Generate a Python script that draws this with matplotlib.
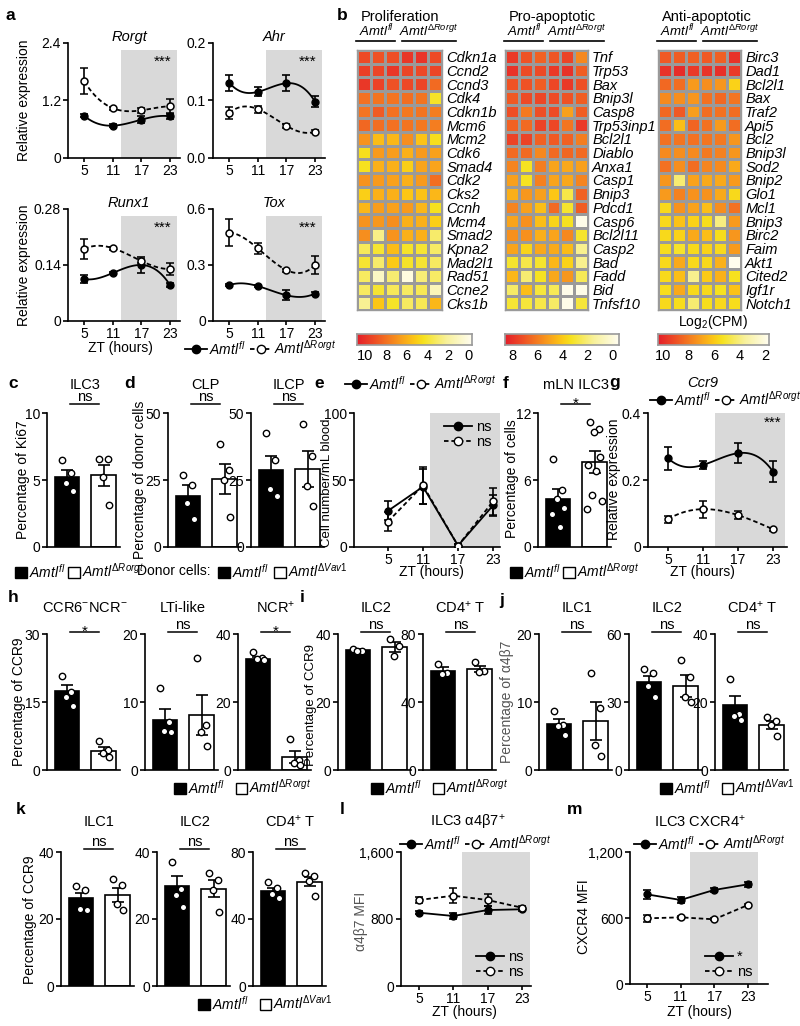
import numpy as np
import matplotlib
matplotlib.use("Agg")
import matplotlib.pyplot as plt
import matplotlib.transforms as mtransforms
from matplotlib.colors import LinearSegmentedColormap
from matplotlib.lines import Line2D
from matplotlib.patches import Patch

plt.rcParams["font.family"] = ["Liberation Sans", "DejaVu Sans"]
plt.rcParams["mathtext.fontset"] = "custom"
plt.rcParams["mathtext.rm"] = "Liberation Sans"
plt.rcParams["mathtext.it"] = "Liberation Sans:italic"
plt.rcParams["mathtext.bf"] = "Liberation Sans:bold"
plt.rcParams["font.size"] = 10
plt.rcParams["axes.linewidth"] = 1.2
plt.rcParams["xtick.major.width"] = 1.2
plt.rcParams["ytick.major.width"] = 1.2
plt.rcParams["xtick.major.size"] = 3
plt.rcParams["ytick.major.size"] = 3.5
plt.rcParams["xtick.major.pad"] = 1
plt.rcParams["ytick.major.pad"] = 1.5

# ---------------- data ----------------
zt = [5, 11, 17, 23]

# a: qPCR time courses (mean, sem)
rorgt_fl = [0.88, 0.675, 0.80, 0.87]
rorgt_fl_err = [0.03, 0.03, 0.08, 0.05]
rorgt_ko = [1.60, 1.04, 0.995, 1.08]
rorgt_ko_err = [0.27, 0.03, 0.05, 0.15]
ahr_fl = [0.131, 0.115, 0.130, 0.098]
ahr_fl_err = [0.014, 0.008, 0.014, 0.010]
ahr_ko = [0.078, 0.085, 0.056, 0.046]
ahr_ko_err = [0.011, 0.006, 0.003, 0.002]
runx1_fl = [0.105, 0.120, 0.140, 0.090]
runx1_fl_err = [0.010, 0.003, 0.020, 0.006]
runx1_ko = [0.180, 0.182, 0.150, 0.130]
runx1_ko_err = [0.025, 0.004, 0.005, 0.015]
tox_fl = [0.192, 0.187, 0.138, 0.147]
tox_fl_err = [0.005, 0.006, 0.027, 0.006]
tox_ko = [0.474, 0.389, 0.273, 0.300]
tox_ko_err = [0.074, 0.031, 0.008, 0.050]

# b: heatmaps, log2(CPM)
prolif_genes = ["Cdkn1a", "Ccnd2", "Ccnd3", "Cdk4", "Cdkn1b", "Mcm6", "Mcm2", "Cdk6", "Smad4", "Cdk2",
                "Cks2", "Ccnh", "Mcm4", "Smad2", "Kpna2", "Mad2l1", "Rad51", "Ccne2", "Cks1b"]
prolif_vals = [
    [9.2, 9.0, 9.1, 9.9, 10.0, 9.2],
    [9.6, 9.4, 9.9, 9.4, 9.3, 9.4],
    [9.9, 9.5, 9.0, 9.3, 9.4, 8.2],
    [8.0, 7.9, 7.9, 8.1, 7.9, 4.2],
    [7.9, 8.7, 8.0, 7.8, 7.9, 7.6],
    [8.3, 8.1, 8.0, 7.9, 7.8, 7.6],
    [6.9, 5.6, 5.8, 7.1, 5.4, 4.5],
    [4.5, 6.7, 6.6, 6.0, 6.7, 6.5],
    [4.4, 6.0, 6.0, 5.0, 6.4, 6.4],
    [6.9, 6.7, 6.5, 6.0, 6.7, 8.1],
    [5.0, 6.0, 6.0, 5.3, 5.4, 5.8],
    [5.8, 6.6, 6.5, 6.7, 5.8, 4.4],
    [6.9, 6.8, 7.1, 6.0, 6.0, 5.0],
    [7.1, 2.5, 6.9, 6.0, 6.0, 3.0],
    [3.3, 4.0, 5.6, 4.2, 4.0, 3.1],
    [4.0, 3.0, 5.2, 4.2, 4.0, 3.2],
    [3.2, 1.0, 2.9, 0.2, 2.8, 3.1],
    [3.2, 4.0, 3.3, 3.2, 3.4, 1.3],
    [2.3, 5.3, 4.2, 3.2, 3.4, 5.8],
]
pro_genes = ["Tnf", "Trp53", "Bax", "Bnip3l", "Casp8", "Trp53inp1", "Bcl2l1", "Diablo", "Anxa1", "Casp1",
             "Bnip3", "Pdcd1", "Casp6", "Bcl2l11", "Casp2", "Bad", "Fadd", "Bid", "Tnfsf10"]
pro_vals = [
    [7.8, 7.1, 6.7, 7.0, 7.5, 5.7],
    [8.0, 7.3, 7.3, 7.8, 8.0, 6.8],
    [7.1, 7.1, 6.8, 7.4, 7.8, 7.2],
    [6.9, 7.3, 7.4, 7.3, 7.1, 6.8],
    [7.2, 6.1, 7.2, 7.3, 5.1, 6.8],
    [6.7, 6.5, 7.5, 7.4, 6.2, 7.8],
    [7.5, 7.5, 6.7, 6.9, 6.7, 6.0],
    [6.5, 6.5, 5.7, 6.5, 6.6, 6.5],
    [5.8, 3.3, 6.0, 5.0, 4.9, 5.1],
    [5.1, 3.3, 5.9, 5.0, 4.9, 5.8],
    [4.7, 5.3, 5.1, 4.1, 2.7, 6.7],
    [5.8, 5.1, 4.3, 6.5, 3.1, 6.8],
    [5.0, 5.5, 4.3, 3.7, 3.3, -0.3],
    [5.5, 5.5, 4.7, 5.0, 5.7, 3.1],
    [5.0, 3.7, 4.9, 4.8, 4.4, 1.7],
    [3.1, 2.7, 3.1, 4.5, 3.8, 1.7],
    [4.5, 2.1, 3.3, 4.9, 5.3, 2.5],
    [2.3, 4.3, 2.9, 2.5, -0.3, -0.3],
    [3.0, 2.9, 2.7, 2.3, -0.3, 2.9],
]
anti_genes = ["Birc3", "Dad1", "Bcl2l1", "Bax", "Traf2", "Api5", "Bcl2", "Bnip3l", "Sod2", "Bnip2",
              "Glo1", "Mcl1", "Bnip3", "Birc2", "Faim", "Akt1", "Cited2", "Igf1r", "Notch1"]
anti_vals = [
    [8.8, 8.7, 8.6, 8.8, 8.6, 9.8],
    [9.8, 10.0, 9.6, 9.8, 9.9, 9.6],
    [8.4, 8.3, 7.2, 7.5, 7.3, 5.8],
    [7.6, 7.5, 7.3, 8.2, 8.4, 8.1],
    [8.4, 8.8, 7.1, 8.3, 8.2, 8.3],
    [8.3, 6.3, 8.5, 8.2, 7.2, 8.3],
    [8.2, 8.1, 8.2, 8.1, 8.0, 7.3],
    [7.6, 7.5, 7.6, 8.0, 7.8, 7.3],
    [8.2, 7.5, 8.3, 7.7, 7.6, 6.8],
    [7.3, 4.2, 7.0, 6.8, 6.8, 7.2],
    [7.2, 7.8, 7.4, 7.4, 6.8, 5.6],
    [5.6, 7.4, 7.0, 6.3, 7.5, 8.2],
    [5.6, 6.2, 5.8, 5.5, 4.0, 7.2],
    [5.6, 5.8, 6.8, 6.3, 5.5, 7.3],
    [5.5, 5.2, 5.6, 5.8, 5.6, 7.2],
    [5.6, 6.8, 5.6, 5.6, 6.6, 1.8],
    [5.6, 6.3, 3.8, 6.0, 6.6, 5.4],
    [5.5, 6.8, 5.6, 5.6, 5.4, 6.2],
    [5.6, 5.5, 4.2, 5.5, 5.6, 5.5],
]

# c
ki67_fl = [6.5, 5.5, 4.8, 4.2]
ki67_ko = [6.6, 6.6, 5.2, 3.1]
ki67_mean = [5.25, 5.35]
ki67_sem = [0.5, 0.8]
# d
clp_fl = [27.0, 23.0, 16.5, 10.5]
clp_ko = [38.3, 28.6, 24.9, 11.2]
clp_mean = [19.2, 25.5]
clp_sem = [3.8, 5.6]
ilcp_fl = [42.5, 32.3, 21.8, 19.0]
ilcp_ko = [45.8, 33.8, 22.6, 15.2]
ilcp_mean = [28.8, 29.2]
ilcp_sem = [5.2, 6.8]
# e
blood_fl = [27, 45, 1, 31]
blood_fl_err = [7, 13, 1, 8]
blood_ko = [19, 46, 1, 34]
blood_ko_err = [7, 14, 1, 10]
# f
mln_fl = [7.9, 5.1, 4.3, 3.5, 3.0, 1.8]
mln_ko = [11.2, 10.6, 10.3, 8.1, 7.3, 6.8, 4.7, 4.1, 3.4]
mln_mean = [4.3, 7.6]
mln_sem = [0.9, 1.0]
# g
ccr9_fl = [0.265, 0.245, 0.28, 0.225]
ccr9_fl_err = [0.035, 0.012, 0.03, 0.032]
ccr9_ko = [0.083, 0.113, 0.095, 0.053]
ccr9_ko_err = [0.01, 0.025, 0.012, 0.005]
# h
ccr6_fl = [20.8, 17.3, 16.2, 14.2]
ccr6_ko = [6.5, 4.4, 3.7, 2.9]
ccr6_mean = [17.5, 4.3]
ccr6_sem = [1.3, 0.8]
lti_fl = [12.0, 7.1, 5.7, 5.6]
lti_ko = [16.5, 6.6, 5.6, 3.6]
lti_mean = [7.4, 8.1]
lti_sem = [1.5, 2.9]
ncr_fl = [34.6, 32.9, 32.6, 32.3]
ncr_ko = [9.0, 2.8, 2.2, 1.5]
ncr_mean = [32.6, 3.9]
ncr_sem = [0.6, 1.7]
# i
i_ilc2_fl = [35.6, 35.1, 35.0]
i_ilc2_ko = [38.5, 36.6, 33.6]
i_ilc2_mean = [35.3, 36.2]
i_ilc2_sem = [0.3, 1.4]
i_cd4_fl = [62.5, 57.0, 56.4]
i_cd4_ko = [63.3, 58.0, 57.6]
i_cd4_mean = [58.4, 59.6]
i_cd4_sem = [2.2, 1.8]
# j
j_ilc1_fl = [8.7, 6.6, 6.5, 5.1]
j_ilc1_ko = [14.3, 9.1, 3.7, 2.1]
j_ilc1_mean = [6.8, 7.2]
j_ilc1_sem = [0.7, 2.8]
j_ilc2_fl = [44.5, 42.8, 36.9, 32.4]
j_ilc2_ko = [48.4, 41.0, 32.4, 30.2]
j_ilc2_mean = [38.8, 37.0]
j_ilc2_sem = [2.7, 4.8]
j_cd4_fl = [26.7, 16.5, 15.9, 14.7]
j_cd4_ko = [15.7, 14.5, 13.3, 10.1]
j_cd4_mean = [19.0, 13.3]
j_cd4_sem = [2.7, 1.2]
# k
k_ilc1_fl = [29.8, 28.6, 23.1, 22.8]
k_ilc1_ko = [31.8, 30.1, 24.6, 22.6]
k_ilc1_mean = [26.2, 27.2]
k_ilc1_sem = [1.6, 2.2]
k_ilc2_fl = [37.0, 29.1, 27.1, 23.6]
k_ilc2_ko = [33.7, 31.6, 28.8, 22.1]
k_ilc2_mean = [29.9, 29.0]
k_ilc2_sem = [2.8, 2.5]
k_cd4_fl = [62.1, 58.8, 55.2, 52.6]
k_cd4_ko = [67.5, 65.5, 62.5, 53.8]
k_cd4_mean = [56.5, 62.3]
k_cd4_sem = [2.0, 2.8]
# l, m
a4b7_fl = [875, 836, 907, 916]
a4b7_fl_err = [20, 40, 50, 20]
a4b7_ko = [1027, 1078, 1027, 935]
a4b7_ko_err = [40, 90, 70, 15]
cxcr4_fl = [815, 764, 855, 906]
cxcr4_fl_err = [40, 30, 20, 25]
cxcr4_ko = [597, 606, 588, 718]
cxcr4_ko_err = [30, 15, 10, 5]

# ---------------- helpers ----------------
W, H = 800, 1026
fig = plt.figure(figsize=(W / 100, H / 100), dpi=100)

FL = r"$\mathit{Amtl}^{\mathit{fl}}$"
KO_R = r"$\mathit{Amtl}^{\mathit{\Delta Rorgt}}$"
KO_V = r"$\mathit{Amtl}^{\mathit{\Delta Vav1}}$"
SHADE = "#d9d9d9"
DASH = (0, (2.5, 1.6))
LAB = 10      # axis label size
TIT = 10.5    # panel titles
LEG = 10      # legend text


def px_ax(x0, y0, x1, y1):
    return fig.add_axes([x0 / W, 1 - y1 / H, (x1 - x0) / W, (y1 - y0) / H])


def ftext(x, y, s, **kw):
    kw.setdefault("ha", "center")
    kw.setdefault("va", "center")
    return fig.text(x / W, 1 - y / H, s, **kw)


def letter(x, y, s):
    ftext(x, y, s, fontsize=12.5, fontweight="bold", ha="left")


def clean(ax):
    ax.spines["top"].set_visible(False)
    ax.spines["right"].set_visible(False)


def bar_legend(x, y, ko_label, gap=0.5):
    h = [Patch(facecolor="k", edgecolor="k", lw=1), Patch(facecolor="w", edgecolor="k", lw=1)]
    fig.legend(h, [FL, ko_label], loc="center left", bbox_to_anchor=(x / W, 1 - y / H),
               ncol=2, frameon=False, handlelength=0.85, handleheight=0.85, handletextpad=0.15,
               columnspacing=gap, borderpad=0, borderaxespad=0, fontsize=LEG)


def line_handles():
    return [Line2D([], [], color="k", lw=1.3, marker="o", ms=6),
            Line2D([], [], color="k", lw=1.3, ls=DASH, marker="o", mfc="w", ms=6)]


def line_legend(x, y, ko_label):
    fig.legend(line_handles(), [FL, ko_label], loc="center left", bbox_to_anchor=(x / W, 1 - y / H),
               ncol=2, frameon=False, handlelength=1.6, handletextpad=0.1, columnspacing=0.35,
               borderpad=0, borderaxespad=0, fontsize=LEG)


def inner_legend(x, y, labels):
    fig.legend(line_handles(), labels, loc="upper left", bbox_to_anchor=(x / W, 1 - y / H),
               ncol=1, frameon=False, handlelength=1.9, handletextpad=0.3, labelspacing=0.05,
               borderpad=0, borderaxespad=0, fontsize=LEG + 0.5)


JIT = [-0.13, 0.12, -0.02, 0.16, -0.17, 0.05, -0.08, 0.2, -0.22]


def bar_panel(left, top, bottom, pts_fl, pts_ko, means, sems, ymax, title, sig,
              title_y, line_y):
    ax = px_ax(left, top, left + 73, bottom)
    clean(ax)
    ax.bar([0, 1], means, width=0.68, color=["k", "w"], edgecolor="k", lw=1.2, zorder=1)
    ax.errorbar([0, 1], means, yerr=sems, fmt="none", ecolor="k", elinewidth=1.2,
                capsize=4, capthick=1.2, zorder=2)
    for xc, pts in zip([0, 1], [pts_fl, pts_ko]):
        ax.plot(xc + np.array(JIT[:len(pts)]), pts, "o", mfc="w", mec="k", ms=4.6, mew=1,
                zorder=3, clip_on=False)
    ax.set_xlim(-0.55, 1.45)
    ax.set_ylim(0, ymax)
    ax.set_yticks([0, ymax / 2, ymax])
    ax.set_yticklabels([f"{v:g}" for v in [0, ymax / 2, ymax]])
    ax.set_xticks([])
    tr = mtransforms.blended_transform_factory(ax.transData, ax.transAxes)
    span = bottom - top
    fy = lambda ypx: (bottom - ypx) / span
    ax.plot([0.08, 0.88], [fy(line_y)] * 2, color="k", lw=1.1, transform=tr, clip_on=False)
    if sig == "*":
        ax.text(0.48, fy(line_y + 4), sig, transform=tr, ha="center", va="baseline", fontsize=11)
    else:
        ax.text(0.48, fy(line_y - 3), sig, transform=tr, ha="center", va="baseline", fontsize=TIT)
    ax.text(0.48, fy(title_y), title, transform=tr, ha="center", va="center", fontsize=TIT)
    return ax


def line_panel(box, xlim, ymax, ticklabels, fl, fl_err, ko, ko_err, smooth, shade, shade_top=1.0):
    ax = px_ax(*box)
    clean(ax)
    ax.axvspan(shade[0], shade[1], ymin=0, ymax=shade_top, color=SHADE, lw=0, zorder=0)
    for y, ls in [(fl, "-"), (ko, DASH)]:
        if smooth:
            xs = np.linspace(zt[0], zt[-1], 120)
            ax.plot(xs, np.polyval(np.polyfit(zt, y, 3), xs), color="k", lw=1.3, ls=ls, zorder=2)
        else:
            ax.plot(zt, y, color="k", lw=1.3, ls=ls, zorder=2)
    ax.errorbar(zt, fl, yerr=fl_err, fmt="o", color="k", mfc="k", mec="k", ms=5,
                elinewidth=1.2, capsize=3, capthick=1.2, zorder=3)
    ax.errorbar(zt, ko, yerr=ko_err, fmt="o", color="k", mfc="w", mec="k", ms=5, mew=1.1,
                elinewidth=1.2, capsize=3, capthick=1.2, zorder=3)
    ax.set_xlim(*xlim)
    ax.set_ylim(0, ymax)
    ax.set_xticks(zt)
    ax.set_yticks([0, ymax / 2, ymax])
    ax.set_yticklabels(ticklabels)
    return ax


# ---------------- a ----------------
letter(6, 15, "a")
a_panels = [
    ((68, 43, 180, 158), 2.4, ["0", "1.2", "2.4"], rorgt_fl, rorgt_fl_err, rorgt_ko, rorgt_ko_err, "Rorgt"),
    ((213, 43, 325, 158), 0.2, ["0.0", "0.1", "0.2"], ahr_fl, ahr_fl_err, ahr_ko, ahr_ko_err, "Ahr"),
    ((68, 209, 180, 321), 0.28, ["0", "0.14", "0.28"], runx1_fl, runx1_fl_err, runx1_ko, runx1_ko_err, "Runx1"),
    ((213, 209, 325, 321), 0.6, ["0", "0.3", "0.6"], tox_fl, tox_fl_err, tox_ko, tox_ko_err, "Tox"),
]
for box, ymax, tl, f, fe, k, ke, name in a_panels:
    ax = line_panel(box, (1.6, 25.1), ymax, tl, f, fe, k, ke, True, (12.8, 24.4), shade_top=0.94)
    ftext((box[0] + box[2]) / 2 + 5, box[1] - 6, name, style="italic", fontsize=TIT)
    ftext(box[2] - 17, box[1] + 19, "***", fontsize=11)
ftext(24, 100, "Relative expression", rotation=90, fontsize=LAB)
ftext(24, 265, "Relative expression", rotation=90, fontsize=LAB)
ftext(120, 348, "ZT (hours)", fontsize=LAB)
line_legend(185, 348, KO_R)

# ---------------- b ----------------
letter(337, 15, "b")
cmap = LinearSegmentedColormap.from_list("heat", [
    (0.0, "#fffdf0"), (0.22, "#f8f19a"), (0.42, "#f6e21e"), (0.5, "#fcc815"),
    (0.6, "#f9a51b"), (0.72, "#f47b20"), (0.85, "#ee4d25"), (1.0, "#e41e2a")])

heat_specs = [
    (357, 442, prolif_vals, prolif_genes, -0.3, 10.8, "Proliferation", 472, [10, 8, 6, 4, 2, 0]),
    (505, 588, pro_vals, pro_genes, -0.5, 8.6, "Pro-apoptotic", 619, [8, 6, 4, 2, 0]),
    (658, 741, anti_vals, anti_genes, 1.7, 10.4, "Anti-apoptotic", 769, [10, 8, 6, 4, 2]),
]
for x0, x1, vals, genes, vmin, vmax, title, cbx1, cbt in heat_specs:
    ax = px_ax(x0, 50, x1, 310)
    ax.pcolormesh(np.array(vals), cmap=cmap, vmin=vmin, vmax=vmax, edgecolors="#9a9a9a", linewidth=0.9)
    ax.set_xlim(0, 6)
    ax.set_ylim(len(genes), 0)
    ax.set_xticks([])
    ax.set_yticks(np.arange(len(genes)) + 0.5)
    ax.set_yticklabels(genes, style="italic", fontsize=10.5)
    ax.yaxis.tick_right()
    ax.tick_params(axis="y", length=0, pad=3)
    for s in ax.spines.values():
        s.set_color("#9a9a9a")
        s.set_linewidth(1)
    ftext(x0 + 4, 17, title, ha="left", fontsize=TIT)
    ftext(x0 + 19, 31, FL, fontsize=9.5)
    ftext(x0 + 72, 31, KO_R, fontsize=9.5)
    fig.add_artist(Line2D([(x0 - 1) / W, (x0 + 38) / W], [1 - 41 / H] * 2, color="k", lw=1.2))
    fig.add_artist(Line2D([(x0 + 45) / W, (x0 + 99) / W], [1 - 41 / H] * 2, color="k", lw=1.2))
    cax = px_ax(x0, 334, cbx1, 345)
    cax.imshow(np.linspace(vmin, vmax, 256)[None, :], cmap=cmap, aspect="auto",
               extent=[vmin, vmax, 0, 1])
    cax.set_xlim(vmax, vmin)
    cax.set_yticks([])
    cax.set_xticks(cbt)
    cax.tick_params(axis="x", length=0, pad=3, labelsize=10.5)
    for s in cax.spines.values():
        s.set_color("#9a9a9a")
        s.set_linewidth(1.2)
ftext(713, 322, r"Log$_2$(CPM)", fontsize=LAB)

# ---------------- c, d, f ----------------
row1 = dict(top=413, bottom=547, title_y=385, line_y=404)
letter(8, 383, "c")
bar_panel(47, pts_fl=ki67_fl, pts_ko=ki67_ko, means=ki67_mean, sems=ki67_sem, ymax=10,
          title="ILC3", sig="ns", **row1)
ftext(23, 480, "Percentage of Ki67", rotation=90, fontsize=LAB)
bar_legend(15, 571, KO_R, gap=0.2)

letter(124, 383, "d")
bar_panel(168, pts_fl=clp_fl, pts_ko=clp_ko, means=clp_mean, sems=clp_sem, ymax=50,
          title="CLP", sig="ns", **row1)
bar_panel(251, pts_fl=ilcp_fl, pts_ko=ilcp_ko, means=ilcp_mean, sems=ilcp_sem, ymax=50,
          title="ILCP", sig="ns", **row1)
ftext(140, 480, "Percentage of donor cells", rotation=90, fontsize=LAB)
ftext(137, 571, "Donor cells:", ha="left", fontsize=LAB)
bar_legend(218, 571, KO_V, gap=0.4)

letter(503, 383, "f")
bar_panel(538, pts_fl=mln_fl, pts_ko=mln_ko, means=mln_mean, sems=mln_sem, ymax=12,
          title="mLN ILC3", sig="*", **row1)
ftext(512, 479, "Percentage of cells", rotation=90, fontsize=LAB)
bar_legend(510, 571, KO_R, gap=0.2)

# ---------------- e ----------------
letter(314, 383, "e")
ax = line_panel((354, 413, 500, 547), (-0.83, 24.2), 100, ["0", "50", "100"],
                blood_fl, blood_fl_err, blood_ko, blood_ko_err, False, (12.2, 24.2))
ftext(327, 483, "Cell number/mL blood", rotation=90, fontsize=9.5)
ftext(431, 572, "ZT (hours)", fontsize=LAB)
line_legend(345, 383, KO_R)
inner_legend(444, 420, ["ns", "ns"])

# ---------------- g ----------------
letter(609, 383, "g")
ax = line_panel((648, 413, 787, 547), (1.57, 25.4), 0.4, ["0", "0.2", "0.4"],
                ccr9_fl, ccr9_fl_err, ccr9_ko, ccr9_ko_err, True, (13.0, 25.1))
ftext(703, 383, "Ccr9", style="italic", fontsize=TIT)
ftext(773, 423, "***", fontsize=11)
ftext(614, 479, "Relative expression", rotation=90, fontsize=LAB)
ftext(702, 572, "ZT (hours)", fontsize=LAB)
line_legend(650, 399, KO_R)

# ---------------- h, i, j ----------------
row2 = dict(top=634, bottom=770, title_y=608, line_y=632)
letter(8, 598, "h")
bar_panel(47, pts_fl=ccr6_fl, pts_ko=ccr6_ko, means=ccr6_mean, sems=ccr6_sem, ymax=30,
          title=r"CCR6$^{-}$NCR$^{-}$", sig="*", **row2)
bar_panel(145, pts_fl=lti_fl, pts_ko=lti_ko, means=lti_mean, sems=lti_sem, ymax=20,
          title="LTi-like", sig="ns", **row2)
bar_panel(238, pts_fl=ncr_fl, pts_ko=ncr_ko, means=ncr_mean, sems=ncr_sem, ymax=40,
          title=r"NCR$^{+}$", sig="*", **row2)
ftext(19, 702, "Percentage of CCR9", rotation=90, fontsize=LAB)
bar_legend(174, 787, KO_R, gap=0.8)

letter(300, 598, "i")
bar_panel(338, pts_fl=i_ilc2_fl, pts_ko=i_ilc2_ko, means=i_ilc2_mean, sems=i_ilc2_sem, ymax=40,
          title="ILC2", sig="ns", **row2)
bar_panel(423, pts_fl=i_cd4_fl, pts_ko=i_cd4_ko, means=i_cd4_mean, sems=i_cd4_sem, ymax=80,
          title=r"CD4$^{+}$ T", sig="ns", **row2)
ftext(311, 705, "Percentage of CCR9", rotation=90, fontsize=9.5)
bar_legend(371, 787, KO_R, gap=0.8)

letter(499, 600, "j")
bar_panel(539, pts_fl=j_ilc1_fl, pts_ko=j_ilc1_ko, means=j_ilc1_mean, sems=j_ilc1_sem, ymax=20,
          title="ILC1", sig="ns", **row2)
bar_panel(629, pts_fl=j_ilc2_fl, pts_ko=j_ilc2_ko, means=j_ilc2_mean, sems=j_ilc2_sem, ymax=60,
          title="ILC2", sig="ns", **row2)
bar_panel(715, pts_fl=j_cd4_fl, pts_ko=j_cd4_ko, means=j_cd4_mean, sems=j_cd4_sem, ymax=40,
          title=r"CD4$^{+}$ T", sig="ns", **row2)
ftext(507, 702, "Percentage of α4β7", rotation=90, fontsize=LAB, color="#555555")
bar_legend(660, 787, KO_V, gap=0.8)

# ---------------- k ----------------
row3 = dict(top=852, bottom=986, title_y=822, line_y=849)
letter(16, 810, "k")
bar_panel(61, pts_fl=k_ilc1_fl, pts_ko=k_ilc1_ko, means=k_ilc1_mean, sems=k_ilc1_sem, ymax=40,
          title="ILC1", sig="ns", **row3)
bar_panel(157, pts_fl=k_ilc2_fl, pts_ko=k_ilc2_ko, means=k_ilc2_mean, sems=k_ilc2_sem, ymax=40,
          title="ILC2", sig="ns", **row3)
bar_panel(253, pts_fl=k_cd4_fl, pts_ko=k_cd4_ko, means=k_cd4_mean, sems=k_cd4_sem, ymax=80,
          title=r"CD4$^{+}$ T", sig="ns", **row3)
ftext(30, 920, "Percentage of CCR9", rotation=90, fontsize=LAB)
bar_legend(198, 1003, KO_V, gap=0.8)

# ---------------- l ----------------
letter(340, 810, "l")
ax = line_panel((401, 852, 531, 986), (1.85, 24.6), 1600, ["0", "800", "1,600"],
                a4b7_fl, a4b7_fl_err, a4b7_ko, a4b7_ko_err, False, (12.5, 24.4))
ftext(468, 822, r"ILC3 α4β7$^{+}$", fontsize=TIT)
ftext(361, 921, "α4β7 MFI", rotation=90, fontsize=LAB, color="#555555")
ftext(464, 1012, "ZT (hours)", fontsize=LAB)
line_legend(400, 843, KO_R)
inner_legend(476, 950, ["ns", "ns"])

# ---------------- m ----------------
letter(567, 810, "m")
ax = line_panel((630, 852, 768, 984), (1.97, 26.6), 1200, ["0", "600", "1,200"],
                cxcr4_fl, cxcr4_fl_err, cxcr4_ko, cxcr4_ko_err, False, (12.66, 24.8))
ftext(700, 822, r"ILC3 CXCR4$^{+}$", fontsize=TIT)
ftext(584, 917, "CXCR4 MFI", rotation=90, fontsize=LAB)
ftext(699, 1012, "ZT (hours)", fontsize=LAB)
line_legend(634, 843, KO_R)
inner_legend(705, 950, ["*", "ns"])

fig.savefig("out.png", dpi=100)
